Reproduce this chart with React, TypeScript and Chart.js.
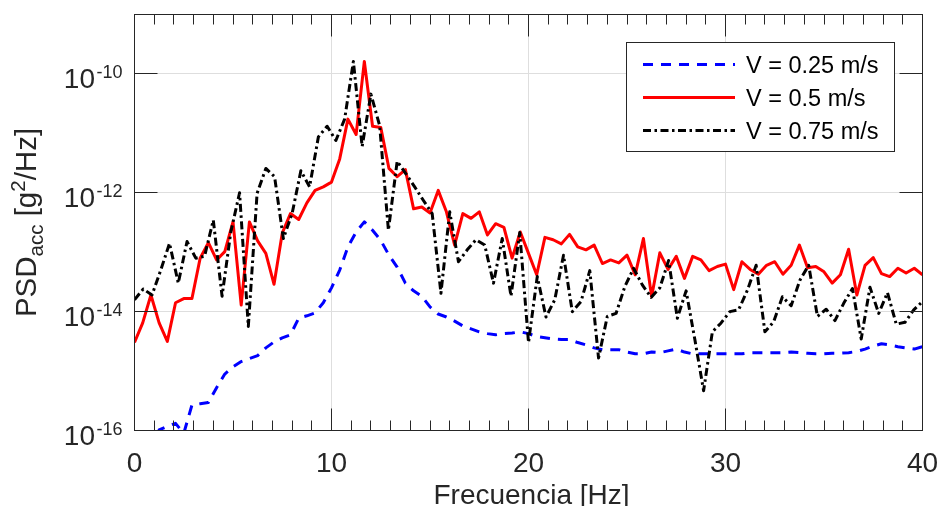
import React, { useEffect, useRef } from "react";
import { Chart, registerables } from "chart.js";

Chart.register(...registerables);

// ---- Data (log10 of PSD in g^2/Hz) ----
const FREQ_MAX = 40;
const N_A = 97; // sample grid of V = 0.25 and V = 0.5 records
const N_B = 91; // sample grid of V = 0.75 record
const freqA: number[] = Array.from({ length: N_A }, (_, i) => (i * FREQ_MAX) / (N_A - 1));
const freqB: number[] = Array.from({ length: N_B }, (_, i) => (i * FREQ_MAX) / (N_B - 1));

const psdV025Log: number[] = [
  -17.2, -16.9, -16.4, -15.99, -15.93, -15.88, -16.05, -15.57, -15.55, -15.53,
  -15.28, -15.05, -14.93, -14.84, -14.79, -14.74, -14.61, -14.51, -14.44, -14.39,
  -14.11, -14.07, -14.02, -13.85, -13.6, -13.3, -12.91, -12.66, -12.49, -12.63,
  -12.8, -13.05, -13.25, -13.52, -13.65, -13.74, -13.92, -14.04, -14.09, -14.16,
  -14.24, -14.29, -14.34, -14.37, -14.39, -14.37, -14.36, -14.34, -14.37, -14.42,
  -14.44, -14.46, -14.47, -14.47, -14.52, -14.56, -14.61, -14.64, -14.64, -14.64,
  -14.68, -14.71, -14.71, -14.68, -14.69, -14.66, -14.63, -14.68, -14.71, -14.71,
  -14.71, -14.71, -14.71, -14.71, -14.71, -14.69, -14.69, -14.69, -14.69, -14.69,
  -14.68, -14.69, -14.7, -14.71, -14.71, -14.7, -14.7, -14.69, -14.67, -14.63,
  -14.58, -14.54, -14.56, -14.59, -14.61, -14.63, -14.59,
];

const psdV050Log: number[] = [
  -14.52, -14.19, -13.72, -14.19, -14.5, -13.85, -13.78, -13.78, -13.1, -12.84,
  -13.13, -12.99, -12.49, -13.89, -12.49, -12.81, -13.02, -13.54, -12.68, -12.35,
  -12.45, -12.17, -11.96, -11.9, -11.82, -11.43, -10.76, -11.02, -9.79, -10.88,
  -10.9, -11.59, -11.73, -11.61, -12.27, -12.24, -12.34, -11.96, -12.32, -12.88,
  -12.35, -12.43, -12.32, -12.71, -12.52, -12.58, -13.1, -12.66, -13.02, -13.38,
  -12.75, -12.79, -12.86, -12.7, -12.91, -12.96, -12.88, -13.19, -13.13, -13.18,
  -13.05, -13.38, -12.77, -13.75, -13.01, -13.29, -13.07, -13.44, -13.07, -13.13,
  -13.31, -13.24, -13.2, -13.63, -13.16, -13.29, -13.37, -13.22, -13.16, -13.37,
  -13.22, -12.88, -13.26, -13.24, -13.33, -13.52, -13.38, -12.95, -13.72, -13.22,
  -13.09, -13.36, -13.41, -13.27, -13.35, -13.27, -13.38,
];

const psdV075Log: number[] = [
  -13.8, -13.62, -13.72, -13.3, -12.85, -13.52, -12.82, -13.1, -13.07, -12.46,
  -13.74, -12.66, -12.0, -14.25, -12.01, -11.59, -11.73, -12.77, -12.35, -11.63,
  -11.9, -11.06, -10.88, -11.12, -10.76, -9.79, -11.22, -10.34, -10.87, -12.63,
  -11.47, -11.68, -11.9, -12.13, -12.35, -13.69, -12.32, -13.16, -12.96, -12.79,
  -12.88, -13.52, -12.77, -13.74, -12.67, -14.52, -13.41, -14.09, -13.8, -13.05,
  -14.0, -13.83, -13.31, -14.78, -14.08, -14.03, -13.58, -13.27, -13.55, -13.76,
  -13.6, -13.14, -14.11, -13.65, -14.47, -15.33, -14.34, -14.19, -14.0, -13.97,
  -13.64, -13.22, -14.34, -14.17, -13.75, -13.9, -13.47, -13.22, -14.08, -13.96,
  -14.15, -13.86, -13.61, -14.46, -13.59, -14.03, -13.68, -14.21, -14.18, -13.97,
  -13.83,
];

const seriesLabels = ["V = 0.25 m/s", "V = 0.5 m/s", "V = 0.75 m/s"];
const xTickValues = [0, 10, 20, 30, 40];
const yTickExponents = [-16, -14, -12, -10];
const xTitle = "Frecuencia [Hz]";

// ---- Styles ----
const FONT = "'Liberation Sans', Arial, Helvetica, sans-serif";
const AXIS_COLOR = "#262626";
const GRID_COLOR = "#dedede";
const BLUE = "#0000ff";
const RED = "#ff0000";
const BLACK = "#000000";
const DASH_BLUE = [10, 8];
const DASH_BLACK = [8, 3.5, 2.5, 3.5];

const toPoints = (xs: number[], logs: number[]) =>
  logs.map((v, i) => ({ x: xs[i], y: Math.pow(10, v) }));

const crisp = (v: number) => Math.floor(v) + 0.5;

const decorPlugin = {
  id: "matlabDecor",
  beforeDatasetsDraw(chart: any) {
    const { ctx, chartArea, scales } = chart;
    const { left, right, top, bottom } = chartArea;
    const x = scales.x;
    const y = scales.y;
    ctx.save();
    ctx.strokeStyle = GRID_COLOR;
    ctx.lineWidth = 1;
    ctx.beginPath();
    for (const v of xTickValues) {
      if (v === 0 || v === FREQ_MAX) continue;
      const px = crisp(x.getPixelForValue(v));
      ctx.moveTo(px, top);
      ctx.lineTo(px, bottom);
    }
    for (const e of yTickExponents) {
      if (e === -16) continue;
      const py = crisp(y.getPixelForValue(Math.pow(10, e)));
      ctx.moveTo(left, py);
      ctx.lineTo(right, py);
    }
    ctx.stroke();
    ctx.restore();
  },
  afterDatasetsDraw(chart: any) {
    const { ctx, chartArea, scales } = chart;
    const { left, right, top, bottom } = chartArea;
    const x = scales.x;
    const y = scales.y;
    ctx.save();
    // frame
    ctx.strokeStyle = AXIS_COLOR;
    ctx.lineWidth = 1;
    ctx.strokeRect(crisp(left), crisp(top), Math.round(right - left), Math.round(bottom - top));
    // x ticks (minor every 1 Hz, major every 10 Hz), inward at bottom and top
    ctx.beginPath();
    for (let v = 0; v <= FREQ_MAX; v += 1) {
      const major = xTickValues.includes(v);
      const len = major ? 22 : 10;
      const px = crisp(x.getPixelForValue(v));
      ctx.moveTo(px, bottom);
      ctx.lineTo(px, bottom - len);
      ctx.moveTo(px, top);
      ctx.lineTo(px, top + len);
    }
    // y ticks
    for (const e of yTickExponents) {
      const py = crisp(y.getPixelForValue(Math.pow(10, e)));
      ctx.moveTo(left, py);
      ctx.lineTo(left + 23, py);
      ctx.moveTo(right, py);
      ctx.lineTo(right - 23, py);
    }
    ctx.stroke();

    // x tick labels
    ctx.fillStyle = AXIS_COLOR;
    ctx.textBaseline = "alphabetic";
    ctx.textAlign = "center";
    ctx.font = `28px ${FONT}`;
    for (const v of xTickValues) {
      ctx.fillText(String(v), x.getPixelForValue(v), 472);
    }
    // y tick labels 10^e
    for (const e of yTickExponents) {
      const py = y.getPixelForValue(Math.pow(10, e));
      const expText = String(e);
      ctx.font = `18px ${FONT}`;
      const ew = ctx.measureText(expText).width;
      const expRight = left - 12;
      ctx.textAlign = "left";
      ctx.fillText(expText, expRight - ew, py + 4);
      ctx.font = `28px ${FONT}`;
      ctx.textAlign = "right";
      ctx.fillText("10", expRight - ew - 1.5, py + 14);
    }
    // x title
    ctx.textAlign = "center";
    ctx.font = `28px ${FONT}`;
    ctx.fillText(xTitle, (left + right) / 2 + 3, 504);

    // y title: PSD_acc [g^2/Hz]
    const parts = [
      { t: "PSD", size: 29.5, dy: 0 },
      { t: "acc", size: 20.5, dy: 7 },
      { t: " [g", size: 29.5, dy: 0 },
      { t: "2", size: 20.5, dy: -11.5 },
      { t: "/Hz]", size: 29.5, dy: 0 },
    ];
    let total = 0;
    const widths: number[] = [];
    for (const p of parts) {
      ctx.font = `${p.size}px ${FONT}`;
      const w = ctx.measureText(p.t).width;
      widths.push(w);
      total += w;
    }
    ctx.save();
    ctx.translate(36, (top + bottom) / 2);
    ctx.rotate(-Math.PI / 2);
    ctx.textAlign = "left";
    let cx = -total / 2;
    parts.forEach((p, i) => {
      ctx.font = `${p.size}px ${FONT}`;
      ctx.fillText(p.t, cx, p.dy);
      cx += widths[i];
    });
    ctx.restore();

    // legend
    const bx = 626.5, by = 42.5, bw = 268, bh = 109;
    ctx.fillStyle = "#ffffff";
    ctx.fillRect(bx, by, bw, bh);
    ctx.strokeStyle = AXIS_COLOR;
    ctx.lineWidth = 1;
    ctx.strokeRect(bx, by, bw, bh);
    const rows = [
      { color: BLUE, dash: DASH_BLUE, y: 64.5 },
      { color: RED, dash: [] as number[], y: 97.5 },
      { color: BLACK, dash: DASH_BLACK, y: 130.5 },
    ];
    rows.forEach((r, i) => {
      ctx.beginPath();
      ctx.strokeStyle = r.color;
      ctx.lineWidth = 3;
      ctx.setLineDash(r.dash);
      ctx.moveTo(643, r.y);
      ctx.lineTo(735, r.y);
      ctx.stroke();
      ctx.setLineDash([]);
      ctx.fillStyle = "#000000";
      ctx.font = `23.5px ${FONT}`;
      ctx.textAlign = "left";
      ctx.fillText(seriesLabels[i], 746, r.y + 8.3);
    });
    ctx.restore();
  },
};

export default function App() {
  const canvasRef = useRef<HTMLCanvasElement | null>(null);

  useEffect(() => {
    if (!canvasRef.current) return;
    const chart = new Chart(canvasRef.current, {
      type: "line",
      data: {
        datasets: [
          {
            label: seriesLabels[0],
            data: toPoints(freqA, psdV025Log),
            borderColor: BLUE,
            borderWidth: 3,
            borderDash: DASH_BLUE,
            pointRadius: 0,
            tension: 0,
            order: 3,
          },
          {
            label: seriesLabels[1],
            data: toPoints(freqA, psdV050Log),
            borderColor: RED,
            borderWidth: 3,
            pointRadius: 0,
            tension: 0,
            order: 2,
          },
          {
            label: seriesLabels[2],
            data: toPoints(freqB, psdV075Log),
            borderColor: BLACK,
            borderWidth: 3,
            borderDash: DASH_BLACK,
            pointRadius: 0,
            tension: 0,
            order: 1,
          },
        ],
      },
      options: {
        animation: false,
        responsive: true,
        maintainAspectRatio: false,
        devicePixelRatio: 1,
        parsing: false as any,
        normalized: true,
        layout: { padding: { top: 14.5, right: 17.5, left: 0, bottom: 0 } },
        datasets: { line: { borderJoinStyle: "round", fill: false } },
        plugins: {
          legend: { display: false },
          tooltip: { enabled: false },
        },
        scales: {
          x: {
            type: "linear",
            min: 0,
            max: FREQ_MAX,
            grid: { display: false },
            border: { display: false },
            ticks: { display: false, stepSize: 10 },
            afterFit: (s: any) => {
              s.height = 75.5;
            },
          },
          y: {
            type: "logarithmic",
            min: 1e-16,
            max: 1e-9,
            grid: { display: false },
            border: { display: false },
            ticks: { display: false },
            afterFit: (s: any) => {
              s.width = 134.5;
            },
          },
        },
      } as any,
      plugins: [decorPlugin],
    });
    return () => chart.destroy();
  }, []);

  return (
    <div style={{ position: "absolute", left: 0, top: 0, width: 940, height: 506, background: "#ffffff" }}>
      <canvas ref={canvasRef} />
    </div>
  );
}
